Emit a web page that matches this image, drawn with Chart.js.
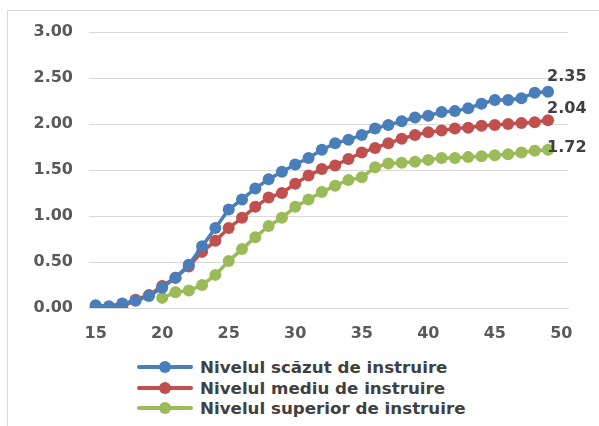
<!DOCTYPE html>
<html>
<head>
<meta charset="utf-8">
<script src="https://cdn.jsdelivr.net/npm/chart.js@4.4.1/dist/chart.umd.min.js"></script>
<style>
  body { margin: 0; background: #fff; }
  #wrap { position: relative; width: 599px; height: 426px; overflow: hidden; }
  #frame { position: absolute; left: 7px; top: 10px; width: 600px; height: 430px; border: 1px solid #d9d9d9; box-sizing: border-box; }
  #chart-box { position: absolute; left: 0; top: 0; width: 599px; height: 345px; }
  #legend { position: absolute; left: 137px; top: 357px; font: bold 16.7px "DejaVu Sans", sans-serif; color: #404040; }
  .item { height: 20.5px; line-height: 20.5px; white-space: nowrap; display: flex; align-items: center; }
  .mark { position: relative; width: 56px; height: 12px; margin-right: 7px; }
  .mark .ln { position: absolute; left: 0; right: 0; top: 4px; height: 4px; border-radius: 2px; }
  .mark .dot { position: absolute; left: 22px; top: 0; width: 12px; height: 12px; border-radius: 50%; }
</style>
</head>
<body>
<div id="wrap">
  <div id="frame"></div>
  <div id="chart-box"><canvas id="chart"></canvas></div>
  <div id="legend"></div>
</div>
<script>
// ages on the x axis (15..49)
const ages = [15,16,17,18,19,20,21,22,23,24,25,26,27,28,29,30,31,32,33,34,35,36,37,38,39,40,41,42,43,44,45,46,47,48,49];
const xTicks = [15,20,25,30,35,40,45,50];
const yTicks = [0,0.5,1,1.5,2,2.5,3];

const lowEdu = [0.03,0.02,0.05,0.08,0.13,0.22,0.33,0.47,0.67,0.87,1.07,1.18,1.30,1.40,1.48,1.56,1.63,1.72,1.79,1.83,1.88,1.95,1.99,2.03,2.07,2.09,2.13,2.14,2.17,2.22,2.26,2.26,2.28,2.34,2.35];
const midEdu = [0.01,0.01,0.01,0.09,0.14,0.24,0.33,0.45,0.61,0.73,0.87,0.98,1.10,1.20,1.25,1.35,1.44,1.51,1.55,1.62,1.69,1.74,1.79,1.84,1.88,1.91,1.93,1.95,1.96,1.98,1.99,2.00,2.01,2.02,2.04];
// superior level starts at age 20
const supAges = [20,21,22,23,24,25,26,27,28,29,30,31,32,33,34,35,36,37,38,39,40,41,42,43,44,45,46,47,48,49];
const supEdu = [0.11,0.17,0.19,0.25,0.36,0.51,0.64,0.77,0.89,0.98,1.10,1.18,1.26,1.33,1.39,1.42,1.53,1.57,1.58,1.59,1.61,1.63,1.63,1.64,1.65,1.66,1.67,1.69,1.71,1.72];

const labels = ['Nivelul scăzut de instruire', 'Nivelul mediu de instruire', 'Nivelul superior de instruire'];
const colors = ['#4a7ebb', '#c0504d', '#9bbb59'];

const toPoints = (xs, ys) => xs.map((x, i) => ({ x: x, y: ys[i] }));

const makeSet = (i, pts) => ({
  label: labels[i],
  data: pts,
  borderColor: colors[i],
  backgroundColor: colors[i],
  borderWidth: 3.5,
  pointRadius: 6,
  pointBorderWidth: 0,
  pointHoverRadius: 6,
  tension: 0,
});

// value label next to the last point of each line
const endLabels = {
  id: 'endLabels',
  afterDatasetsDraw(chart) {
    const ctx = chart.ctx;
    const offsets = [-15, -11, -2];
    ctx.save();
    ctx.font = 'bold 16px "DejaVu Sans", sans-serif';
    ctx.fillStyle = '#404040';
    ctx.textAlign = 'left';
    ctx.textBaseline = 'middle';
    chart.data.datasets.forEach((ds, i) => {
      const meta = chart.getDatasetMeta(i);
      const last = meta.data[meta.data.length - 1];
      const val = ds.data[ds.data.length - 1].y;
      ctx.fillText(val.toFixed(2), last.x - 1, last.y + offsets[i]);
    });
    ctx.restore();
  }
};

const tickFont = { family: 'DejaVu Sans', size: 16, weight: 'bold' };

const chart = new Chart(document.getElementById('chart'), {
  type: 'line',
  data: {
    datasets: [
      makeSet(0, toPoints(ages, lowEdu)),
      makeSet(1, toPoints(ages, midEdu)),
      makeSet(2, toPoints(supAges, supEdu)),
    ],
  },
  options: {
    responsive: true,
    maintainAspectRatio: false,
    animation: false,
    layout: { padding: { top: 32, right: 31, left: 0, bottom: 0 } },
    plugins: {
      legend: { display: false },
      tooltip: { enabled: false },
    },
    scales: {
      x: {
        type: 'linear',
        // categories are centred in their slots, like Excel's category axis
        min: 14.5,
        max: 50.5,
        afterBuildTicks: (scale) => { scale.ticks = xTicks.map((v) => ({ value: v })); },
        afterFit: (scale) => { scale.height = 37; },
        ticks: {
          padding: 16,
          color: '#595959',
          font: tickFont,
        },
        grid: { display: false, drawTicks: false },
        border: { color: '#d9d9d9', width: 1 },
      },
      y: {
        min: 0,
        max: 3,
        afterBuildTicks: (scale) => { scale.ticks = yTicks.map((v) => ({ value: v })); },
        afterFit: (scale) => { scale.width = 89; },
        ticks: {
          padding: 16,
          color: '#595959',
          font: tickFont,
          callback: (v) => v.toFixed(2),
        },
        grid: { color: '#d9d9d9', lineWidth: 1, drawTicks: false },
        border: { display: false },
      },
    },
  },
  plugins: [endLabels],
});

// legend stacked under the plot, like the original
const legendEl = document.getElementById('legend');
chart.data.datasets.forEach((ds) => {
  const row = document.createElement('div');
  row.className = 'item';
  row.innerHTML = '<span class="mark"><span class="ln" style="background:' + ds.borderColor +
    '"></span><span class="dot" style="background:' + ds.borderColor + '"></span></span>' + ds.label;
  legendEl.appendChild(row);
});
</script>
</body>
</html>
